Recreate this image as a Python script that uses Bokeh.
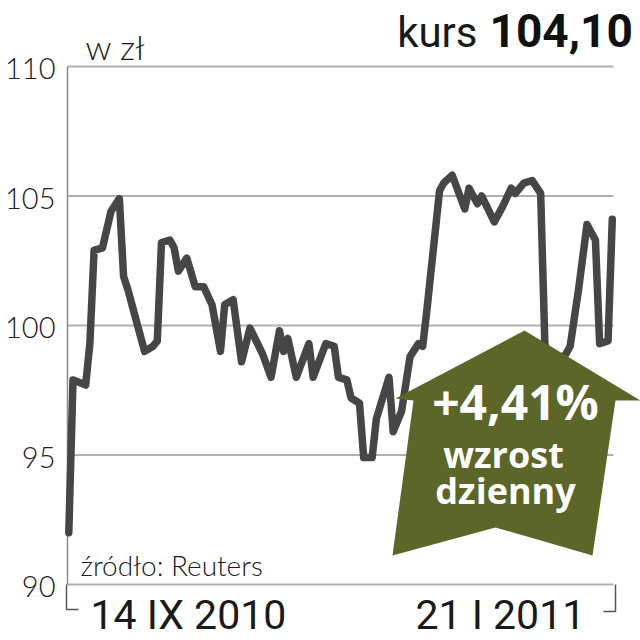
from bokeh.plotting import figure
from bokeh.models import Range1d
from bokeh.core.properties import value
from bokeh.embed import file_html
from bokeh.resources import INLINE

# ---- data ----
days = [0, 1, 4, 5, 6, 8, 10, 12, 13, 14, 18, 20, 21, 22, 24, 25, 26, 28, 30, 32,
        34, 36, 37, 39, 41, 43, 46, 48, 50, 51, 52, 54, 57, 58, 61, 63, 64, 66, 67, 69,
        70, 72, 73, 76, 77, 79, 81, 83, 84, 85, 88, 89, 91, 94, 95, 97, 98, 101, 103, 105,
        106, 108, 110, 112, 113, 114, 115, 116, 118, 119, 121, 123, 125, 126, 128, 129]
price = [92.0, 97.9, 97.7, 99.3, 102.9, 103.0, 104.4, 104.9, 101.9, 101.4, 99.0, 99.2, 99.4, 103.2, 103.3, 103.0, 102.1, 102.6, 101.5, 101.5,
         100.8, 99.0, 100.8, 101.0, 98.6, 99.9, 98.9, 98.0, 99.8, 99.0, 99.5, 98.0, 99.3, 98.0, 99.3, 99.2, 98.0, 97.9, 97.2, 97.0,
         94.9, 94.9, 96.4, 98.0, 95.9, 96.7, 98.8, 99.3, 99.2, 100.6, 105.2, 105.5, 105.8, 104.5, 105.3, 104.7, 105.0, 104.0, 104.6, 105.3,
         105.1, 105.5, 105.6, 105.1, 99.3, 98.7, 98.4, 98.6, 98.9, 99.2, 101.4, 103.9, 103.3, 99.3, 99.4, 104.1]
y_ticks = [90, 95, 100, 105, 110]
x_labels = ["14 IX 2010", "21 I 2011"]
unit_label = "w zł"
kurs_word = "kurs"
kurs_value = "104,10"
change_text = "+4,41%"
change_words = ["wzrost", "dzienny"]
source_text = "źródło: Reuters"

# ---- layout: picture pixels -> data units ----
DAY0_PX, PX_PER_DAY = 68.3, 4.213
TOP_PX, PX_PER_UNIT = 66.0, 25.9          # picture y of the top tick, pixels per zł
TOP_VAL = max(y_ticks)
FIG_LEFT_PX, FIG_TOP_PX = 0, 0
W, H = 640, 640


def px2x(px):
    return (px - DAY0_PX) / PX_PER_DAY


def py2y(py):
    return TOP_VAL - (py - TOP_PX) / PX_PER_UNIT


p = figure(width=W, height=H, output_backend="svg", toolbar_location=None,
           x_range=Range1d(px2x(FIG_LEFT_PX), px2x(FIG_LEFT_PX + W)),
           y_range=Range1d(py2y(FIG_TOP_PX + H), py2y(FIG_TOP_PX)),
           x_axis_location=None, y_axis_location=None,
           min_border=0)
p.outline_line_color = None
p.xgrid.visible = False
p.ygrid.visible = False

# gridlines, axis line and tick labels
gx0, gx1 = px2x(67), px2x(613)
p.segment(x0=[gx0] * len(y_ticks), y0=y_ticks, x1=[gx1] * len(y_ticks), y1=y_ticks,
          line_color="#b0b0b0", line_width=2)
p.segment(x0=[gx0], y0=[min(y_ticks)], x1=[gx0], y1=[max(y_ticks)],
          line_color="#8c8c8c", line_width=1.5)
p.text(x=[px2x(55)] * len(y_ticks), y=y_ticks, text=[str(t) for t in y_ticks],
       text_font=value("Lato Light"), text_font_size="29px", text_color="#222222",
       text_align="right", text_baseline="middle", y_offset=2)

# bracket under the chart
for br in ([(66, 584), (66, 609), (78, 609)], [(615, 584), (615, 611), (603, 611)]):
    p.line([px2x(a) for a, b in br], [py2y(b) for a, b in br], line_color="#555555", line_width=1.5)

# price line
p.line(days, price, line_color="#464646", line_width=7.5, line_join="round", line_cap="round")

# arrow callout
arrow_px = [(524, 330), (640, 400), (615, 400), (592, 555), (495, 527), (392, 555), (413, 400), (395, 398)]
p.patch([px2x(a) for a, b in arrow_px], [py2y(b) for a, b in arrow_px],
        fill_color="#5b6628", line_color=None)


def lab(text, px, base_py, size, font="Roboto", style="normal", align="left", color="#1a1a1a"):
    # anchor at the middle of the capitals: baseline minus ~0.36 em
    cy = base_py - 0.36 * size
    p.text(x=[px2x(px)], y=[py2y(cy)], text=[text], text_font=value(font), text_font_style=style,
           text_font_size=f"{size}px", text_align=align, text_baseline="middle", text_color=color)


lab(unit_label, 85, 58, 34, font="Lato Light")
lab(kurs_word, 477, 47, 42, align="right")
lab(kurs_value, 489, 47, 46, style="bold", color="#111111")
lab(source_text, 80, 575, 28, font="Lato Light")
lab(x_labels[0], 90, 629, 41)
lab(x_labels[1], 415, 629, 41)
lab(change_text, 515, 418, 48, font="Open Sans", style="bold", align="center", color="white")
lab(change_words[0], 503, 467, 36, font="Open Sans", style="bold", align="center", color="white")
lab(change_words[1], 505, 503, 36, font="Open Sans", style="bold", align="center", color="white")

open("out.html", "w").write(file_html(p, INLINE))
